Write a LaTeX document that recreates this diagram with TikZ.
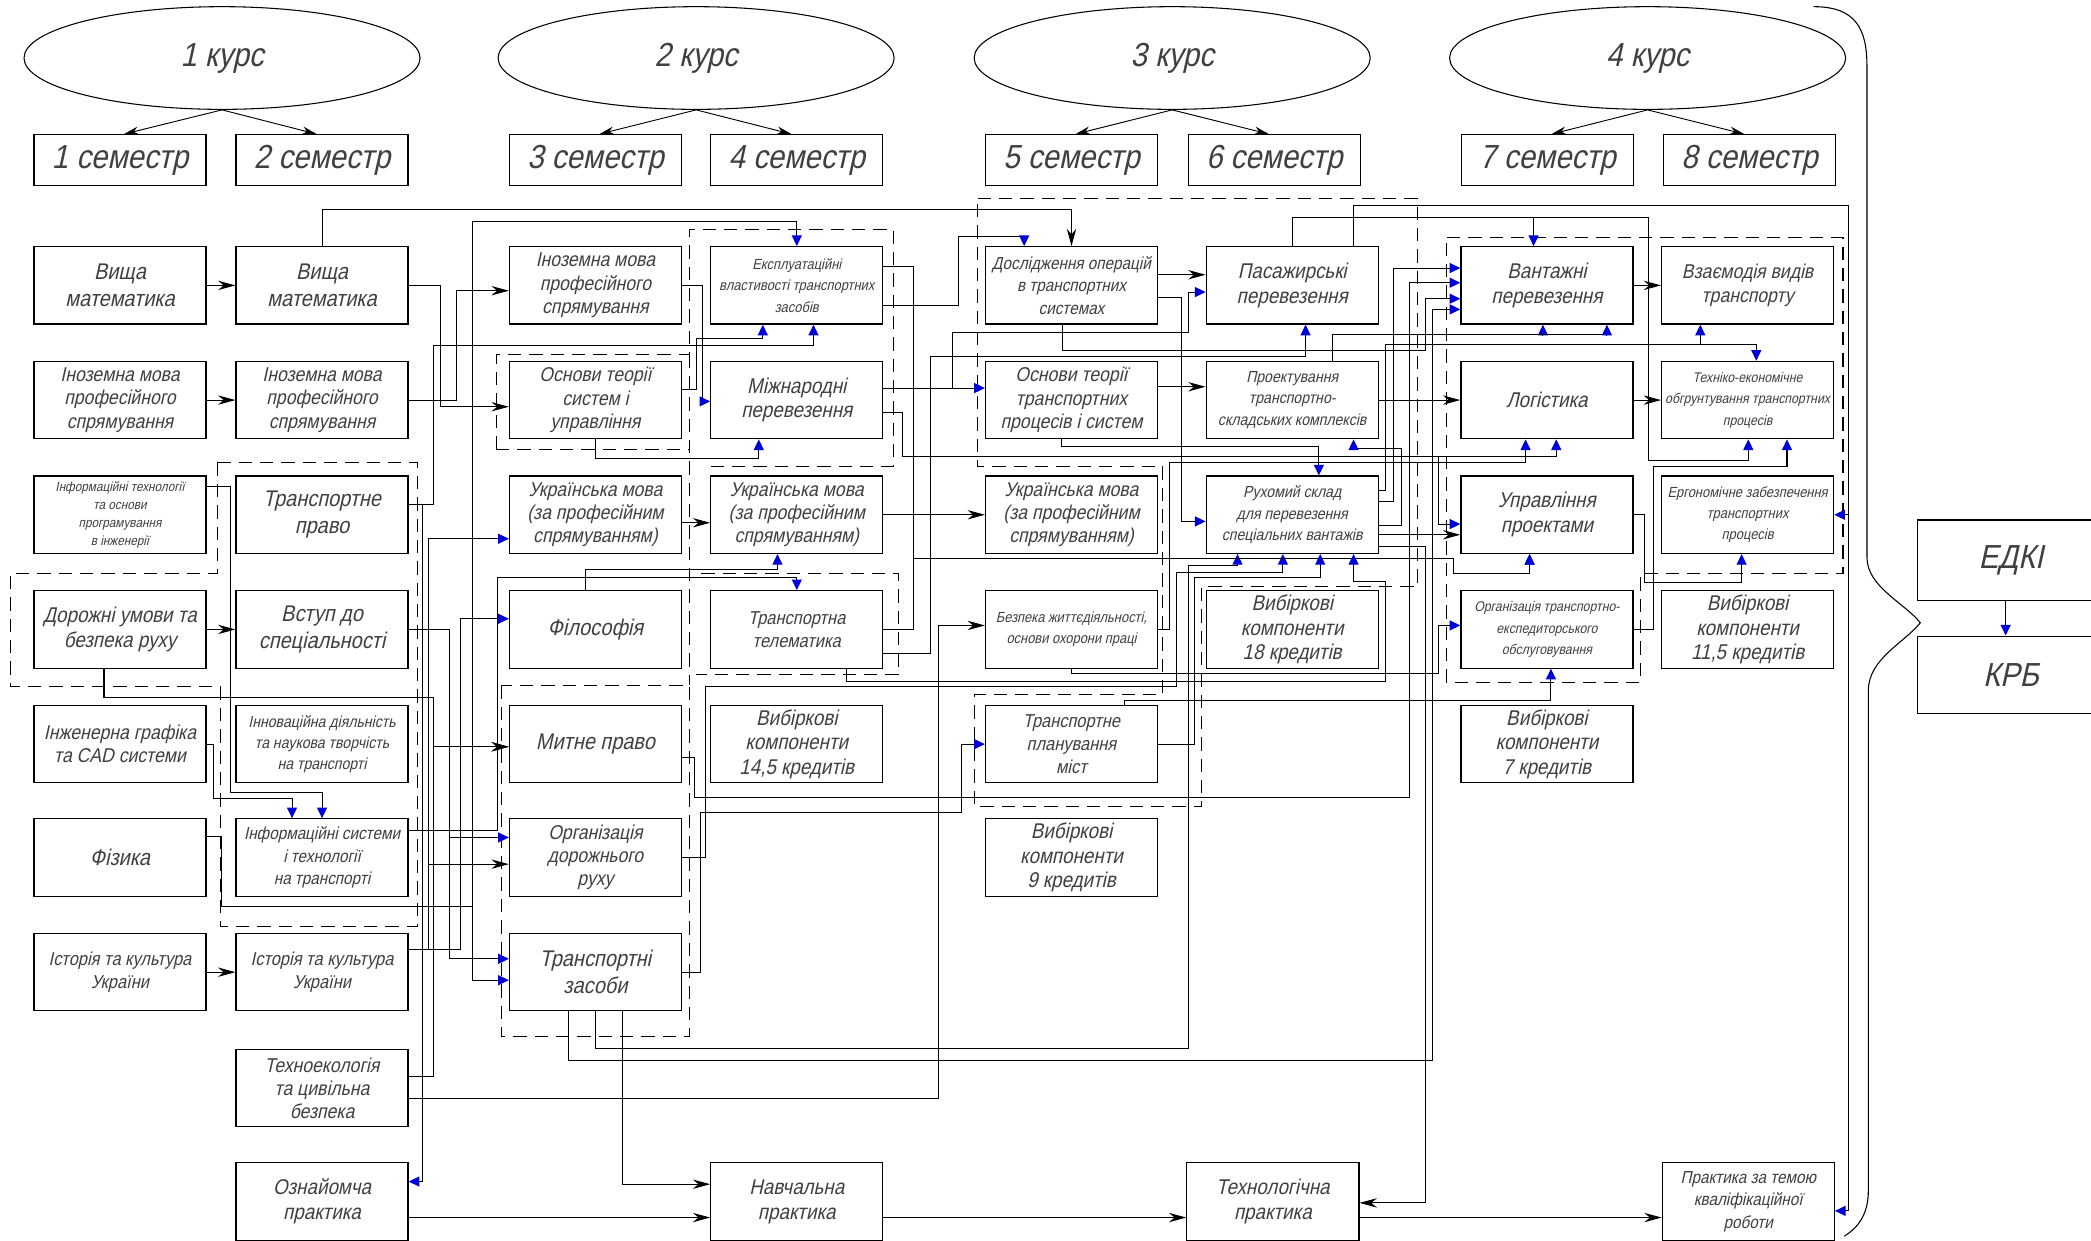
\documentclass[tikz,border=0pt]{standalone}
\usepackage{fontspec}
\setmainfont{Liberation Sans}[FakeSlant=0.22,FakeStretch=0.88]
\usetikzlibrary{shapes.geometric}
\usetikzlibrary{arrows.meta}
\usetikzlibrary{calc}
\tikzstyle{disc}=[draw,line width=0.9pt,minimum width=129pt,minimum height=58pt,inner sep=1pt,align=center,text=black!75]
\tikzstyle{sem}=[draw,line width=0.9pt,minimum width=129pt,minimum height=38pt,inner sep=0pt,text=black!75,font=\fontsize{25}{28}\selectfont]
\tikzstyle{kurs}=[ellipse,draw,line width=0.8pt,minimum width=297pt,minimum height=77pt,inner sep=0pt,text=black!75,font=\fontsize{25}{28}\selectfont]
\tikzstyle{grp}=[line width=0.8pt,dash pattern=on 10pt off 6pt]
\tikzstyle{ln}=[line width=0.8pt]
\tikzstyle{barr}=[ln,-{Stealth[length=13pt,width=7pt]}]
\tikzstyle{blarr}=[ln,-{Triangle[length=8pt,width=7.5pt,color=blue!85!black]}]
\tikzstyle{sarr}=[line width=0.7pt,-{Stealth[length=11pt,width=6pt]}]
\tikzstyle{f17}=[font=\fontsize{17}{20}\selectfont]
\tikzstyle{f16}=[font=\fontsize{16}{18.5}\selectfont]
\tikzstyle{f15}=[font=\fontsize{15}{17.5}\selectfont]
\tikzstyle{f14}=[font=\fontsize{14}{17}\selectfont]
\tikzstyle{f13}=[font=\fontsize{13}{17}\selectfont]
\tikzstyle{f12}=[font=\fontsize{12}{16}\selectfont]
\tikzstyle{f11}=[font=\fontsize{11}{16}\selectfont]
\tikzstyle{f10w}=[font=\fontsize{10.5}{16}\selectfont]
\tikzstyle{f10}=[font=\fontsize{10}{13.5}\selectfont]

\begin{document}
\begin{tikzpicture}[x=1pt,y=-1pt]

  \fill[white] (0,0) rectangle (1568,930);
  \useasboundingbox (0,0) rectangle (1568,930);

  % courses and semesters
  \foreach \x/\name/\label in {166.5/k1/1 курс, 522/k2/2 курс, 879/k3/3 курс, 1235.5/k4/4 курс}
    \node[kurs] (\name) at (\x, 43.5) {\label};
  \foreach \x/\name/\label in {90/s1/1, 241.5/s2/2, 446.5/s3/3, 597.5/s4/4, 803.5/s5/5, 955.5/s6/6, 1160.5/s7/7, 1312/s8/8}
    \node[sem] (\name) at (\x, 120) {\label\ семестр};
  \foreach \k/\a/\b in {k1/s1/s2, k2/s3/s4, k3/s5/s6, k4/s7/s8} {
    \draw[sarr] (\k.south) -- ($(\a.north)+(3,0)$);
    \draw[sarr] (\k.south) -- ($(\b.north)+(-4,0)$);
  }

  % dashed groups
  \draw[grp] (163,347) -- (313,347) -- (313,695) -- (165,695) -- (165,515) -- (8,515) -- (8,430) -- (163,430) -- cycle;
  \draw[grp] (372,337) -- (372,266) -- (517,266) -- (517,172) -- (670,172) -- (670,350) -- (528,350);
  \draw[grp] (372,337) -- (517,337);
  \draw[grp] (517,266) -- (517,514);
  \draw[grp] (376,514) rectangle (517,777);
  \draw[grp] (526,430) -- (674,430) -- (674,506) -- (522,506);
  \draw[grp] (733,149) -- (1063,149) -- (1063,440) -- (901,440) -- (901,605) -- (731,605) -- (731,521) -- (872,521) -- (872,350) -- (733,350) -- cycle;
  \draw[grp] (1085,178) -- (1382,178) -- (1382,430) -- (1230,430) -- (1230,512) -- (1085,512) -- cycle;

  % disciplines
  \foreach \y/\name/\fs/\label in {214/vm1/f17/{Вища\\математика}, 300/im1/f15/{Іноземна мова\\професійного\\спрямування},
      386/it1/f10/{Інформаційні технології\\та основи\\програмування\\в інженерії}, 472/dur/f16/{Дорожні умови та\\безпека руху},
      558/ig/f15/{Інженерна графіка\\та CAD системи}, 643/fiz/f17/{Фізика}, 729/ist1/f14/{Історія та культура\\України}}
    \node[disc,\fs] (\name) at (90, \y) {\label};
  \foreach \y/\name/\fs/\label in {214/vm2/f17/{Вища\\математика}, 300/im2/f15/{Іноземна мова\\професійного\\спрямування},
      386/trpravo/f17/{Транспортне\\право}, 472/vstup/f17/{Вступ до\\спеціальності},
      558/innov/f12/{Інноваційна діяльність\\та наукова творчість\\на транспорті}, 643/infsys/f13/{Інформаційні системи\\і технології\\на транспорті},
      729/ist2/f14/{Історія та культура\\України}, 816/tekhno/f15/{Техноекологія\\та цивільна\\безпека}, 901/oznay/f16/{Ознайомча\\практика}}
    \node[disc,\fs] (\name) at (241.5, \y) {\label};
  \foreach \y/\name/\fs/\label in {214/im3/f15/{Іноземна мова\\професійного\\спрямування}, 300/osnsys/f15/{Основи теорії\\систем і\\управління},
      386/ukr3/f15/{Українська мова\\(за професійним\\спрямуванням)}, 472/filos/f17/{Філософія}, 558/mytne/f17/{Митне право},
      643/org/f15/{Організація\\дорожнього\\руху}, 729/trz/f17/{Транспортні\\засоби}}
    \node[disc,\fs] (\name) at (446.5, \y) {\label};
  \foreach \y/\name/\fs/\label in {214/ekspl/f11/{Експлуатаційні\\властивості транспортних\\засобів}, 300/mizhn/f16/{Міжнародні\\перевезення},
      386/ukr4/f15/{Українська мова\\(за професійним\\спрямуванням)}, 472/telem/f14/{Транспортна\\телематика},
      558/vyb14/f16/{Вибіркові\\компоненти\\14,5 кредитів}, 901/navch/f16/{Навчальна\\практика}}
    \node[disc,\fs] (\name) at (597.5, \y) {\label};
  \foreach \y/\name/\fs/\label in {214/dosl/f13/{Дослідження операцій\\в транспортних\\системах}, 300/osntr/f15/{Основи теорії\\транспортних\\процесів і систем},
      386/ukr5/f15/{Українська мова\\(за професійним\\спрямуванням)}, 472/bezp/f11/{Безпека життєдіяльності,\\основи охорони праці},
      558/trplan/f14/{Транспортне\\планування\\міст}, 643/vyb9/f16/{Вибіркові\\компоненти\\9 кредитів}}
    \node[disc,\fs] (\name) at (803.5, \y) {\label};
  \foreach \y/\name/\fs/\label in {214/pas/f16/{Пасажирські\\перевезення}, 300/proekt/f12/{Проектування\\транспортно-\\складських комплексів},
      386/ruhom/f12/{Рухомий склад\\для перевезення\\спеціальних вантажів}, 472/vyb18/f16/{Вибіркові\\компоненти\\18 кредитів}}
    \node[disc,\fs] (\name) at (969, \y) {\label};
  \foreach \y/\name/\fs/\label in {214/vant/f16/{Вантажні\\перевезення}, 300/logist/f16/{Логістика}, 386/upr/f16/{Управління\\проектами},
      472/orgte/f10w/{Організація транспортно-\\експедиторського\\обслуговування}, 558/vyb7/f16/{Вибіркові\\компоненти\\7 кредитів}}
    \node[disc,\fs] (\name) at (1160, \y) {\label};
  \foreach \y/\name/\fs/\label in {214/vzaem/f15/{Взаємодія видів\\транспорту}, 300/tekhek/f10w/{Техніко-економічне\\обгрунтування транспортних\\процесів},
      386/ergo/f11/{Ергономічне забезпечення\\транспортних\\процесів}, 472/vyb11/f16/{Вибіркові\\компоненти\\11,5 кредитів}}
    \node[disc,\fs] (\name) at (1310.5, \y) {\label};
  \node[disc,f16] (tekhn) at (954.5, 901) {Технологічна\\практика};
  \node[disc,f13] (prakt) at (1311, 901) {Практика за темою\\кваліфікаційної\\роботи};
  \node[disc,font=\fontsize{25}{28}\selectfont,minimum width=140pt,minimum height=60pt] (edki) at (1508, 420) {ЕДКІ};
  \node[disc,font=\fontsize{25}{28}\selectfont,minimum width=140pt] (krb) at (1508, 506) {КРБ};

  % brace
  \draw[ln] (1360,5) .. controls (1392,5) and (1400,22) .. (1400,50) -- (1400,418)
    .. controls (1400,440) and (1428,452) .. (1440,467) .. controls (1428,482) and (1401,494) .. (1401,518)
    -- (1401,893) .. controls (1401,910) and (1394,920) .. (1383,927);

  \foreach \source/\dest in {vm1/vm2, im1/im2, dur/vstup, ist1/ist2, ukr4/ukr5, proekt/logist, logist/tekhek, vant/vzaem}
    \draw[barr] (\source) -- (\dest);
  \draw[blarr] ($(edki.south)+(-4,0)$) -- ($(krb.north)+(-4,0)$);

  % first year
  \draw[barr] (vm2.east) -- (330,214) -- (330,305) -- ($(osnsys.west)+(0,5)$);
  \draw[barr] (im2.east) -- (342,300) -- (342,218) -- ($(im3.west)+(0,4)$);
  \draw[barr] (vm2.north) -- (241.5,157) -- (803.5,157) -- (dosl.north);
  \draw[barr] ($(dur.south)+(-12,0)$) -- (78,523) -- (325,523) -- (325,560) -- ($(mytne.west)+(0,2)$);
  \draw[barr] ($(tekhno.east)+(0,-9)$) -- (325,807) -- (325,560) -- ($(mytne.west)+(0,2)$);
  \draw[barr] ($(ist2.east)+(0,-17)$) -- (321,712) -- (321,648) -- ($(org.west)+(0,5)$);
  \draw[barr] ($(tekhno.east)+(0,8)$) -- (704,824) -- (704,469) -- ($(bezp.west)+(0,-3)$);
  \draw[blarr] ($(it1.east)+(0,-21)$) -- (173,365) -- (173,594) -- (241.5,594) -- (infsys.north);
  \draw[blarr] (ig.east) -- (160,558) -- (160,599) -- (219,599) -- ($(infsys.north)+(-22.5,0)$);
  \draw[blarr] ($(trpravo.east)+(0,-8)$) -- (325,378) -- (325,259) -- (610,259) -- ($(ekspl.south)+(12.5,0)$);
  \draw[blarr] ($(trpravo.east)+(0,-8)$) -- (317,378) -- (317,886) -- ($(oznay.east)+(0,-15)$);
  \draw[blarr] ($(ist2.east)+(0,-17)$) -- (321,712) -- (321,404) -- ($(ukr3.west)+(0,18)$);
  \draw[blarr] (vstup.east) -- (337,472) -- (337,628) -- ($(org.west)+(0,-15)$);
  \draw[blarr] (vstup.east) -- (337,472) -- (337,719) -- ($(trz.west)+(0,-10)$);
  \draw[blarr] ($(ist2.east)+(0,-17)$) -- (345,712) -- (345,464) -- ($(filos.west)+(0,-8)$);
  \draw[blarr] ($(fiz.east)+(0,-16)$) -- (166,627) -- (166,680) -- (354,680) -- (354,735) -- ($(trz.west)+(0,6)$);
  \draw[blarr] ($(fiz.east)+(0,-16)$) -- (166,627) -- (166,680) -- (354,680) -- (354,166) -- (597.5,166) -- (ekspl.north);
  \draw[blarr] ($(infsys.east)+(0,-20)$) -- (373,623) -- (373,433) -- (597.5,433) -- (telem.north);

  % second year
  \draw[barr] ($(ukr3.east)+(0,6)$) -- ($(ukr4.west)+(0,6)$);
  \draw[barr] ($(oznay.east)+(0,12)$) -- ($(navch.west)+(0,12)$);
  \draw[barr] ($(trz.south)+(20.5,0)$) -- (467,888) -- ($(navch.west)+(0,-13)$);
  \draw[blarr] ($(osnsys.east)+(0,-8)$) -- (522,292) -- (522,254) -- (572,254) -- ($(ekspl.south)+(-25.5,0)$);
  \draw[blarr] (im3.east) -- (527,214) -- (527,301) -- ($(mizhn.west)+(0,1)$);
  \draw[blarr] (osnsys.south) -- (446.5,344) -- (569,344) -- ($(mizhn.south)+(-28.5,0)$);
  \draw[blarr] ($(filos.north)+(-7.5,0)$) -- (439,427) -- (583,427) -- ($(ukr4.south)+(-14.5,0)$);
  \draw[blarr] (trz.east) -- (525,729) -- (525,609) -- (721,609) -- (721,558) -- (trplan.west);
  \draw[blarr] ($(mytne.east)+(0,10)$) -- (521,568) -- (521,598) -- (1057,598) -- (1057,212) -- ($(vant.west)+(0,-2)$);
  \draw[blarr] ($(trz.south)+(-20.5,0)$) -- (426,795) -- (1074,795) -- (1074,232) -- ($(vant.west)+(0,18)$);
  \draw[blarr] (trz.south) -- (446.5,786) -- (891,786) -- (891,424) -- (928,424) -- ($(ruhom.south)+(-41,0)$);
  \draw[blarr] (org.east) -- (529,643) -- (529,515) -- (882,515) -- (882,429) -- (962,429) -- ($(ruhom.south)+(-7,0)$);
  \draw[blarr] ($(ekspl.east)+(0,15)$) -- (719,229) -- (719,177) -- (768,177) -- ($(dosl.north)+(-35.5,0)$);
  \draw[blarr] ($(ekspl.east)+(0,-14)$) -- (685,200) -- (685,419) -- (1090,419) -- (1090,430) -- (1147,430) -- ($(upr.south)+(-13,0)$);
  \draw[blarr] (telem.east) -- (685,472) -- (685,419) -- (1090,419) -- (1090,430) -- (1147,430) -- ($(upr.south)+(-13,0)$);
  \draw[blarr] ($(telem.east)+(0,18)$) -- (698,490) -- (698,267) -- (979,267) -- ($(pas.south)+(10,0)$);
  \draw[blarr] ($(telem.south)+(37.5,0)$) -- (635,511) -- (1039,511) -- (1039,436) -- (1015,436) -- ($(ruhom.south)+(46,0)$);
  \draw[blarr] ($(mizhn.east)+(0,-9)$) -- ($(osntr.west)+(0,-9)$);
  \draw[blarr] ($(mizhn.east)+(0,-9)$) -- (714,291) -- (714,249) -- (891,249) -- (891,219) -- ($(pas.west)+(0,5)$);
  \draw[blarr] ($(mizhn.east)+(0,9)$) -- (677,309) -- (677,342) -- (1167,342) -- ($(logist.south)+(7,0)$);
  \draw[blarr] ($(mizhn.east)+(0,9)$) -- (677,309) -- (677,342) -- (1079,342) -- (1079,393) -- ($(upr.west)+(0,7)$);

  % third year
  \draw[barr] ($(dosl.east)+(0,-8)$) -- ($(pas.west)+(0,-8)$);
  \draw[barr] ($(osntr.east)+(0,-10)$) -- ($(proekt.west)+(0,-10)$);
  \draw[barr] ($(ruhom.east)+(0,15)$) -- ($(upr.west)+(0,15)$);
  \draw[barr] ($(ruhom.east)+(0,24)$) -- (1069,410) -- (1069,902) -- ($(tekhn.east)+(0,1)$);
  \draw[barr] ($(navch.east)+(0,12)$) -- ($(tekhn.west)+(0,12)$);
  \draw[barr] ($(tekhn.east)+(0,12)$) -- ($(prakt.west)+(0,12)$);
  \draw[blarr] ($(dosl.east)+(0,9)$) -- (886,223) -- (886,391) -- ($(ruhom.west)+(0,5)$);
  \draw[blarr] ($(dosl.south)+(-6.5,0)$) -- (797,263) -- (1069,263) -- (1069,224) -- ($(vant.west)+(0,10)$);
  \draw[blarr] ($(osntr.south)+(-7.5,0)$) -- (796,335) -- (989,335) -- ($(ruhom.north)+(20,0)$);
  \draw[blarr] (trplan.east) -- (896,558) -- (896,433) -- (990,433) -- ($(ruhom.south)+(21,0)$);
  \draw[blarr] (bezp.east) -- (877,472) -- (877,347) -- (1144,347) -- ($(logist.south)+(-16,0)$);
  \draw[blarr] (bezp.south) -- (803.5,505) -- (1079,505) -- (1079,469) -- ($(orgte.west)+(0,-3)$);
  \draw[blarr] ($(trplan.north)+(40,0)$) -- (843.5,525) -- (1163,525) -- ($(orgte.south)+(3,0)$);
  \draw[blarr] ($(ruhom.east)+(0,-10)$) -- (1045,376) -- (1045,201) -- ($(vant.west)+(0,-13)$);
  \draw[blarr] ($(ruhom.east)+(0,-18)$) -- (1039,368) -- (1039,258) -- (1275,258) -- ($(vzaem.south)+(-35.5,0)$);
  \draw[blarr] ($(ruhom.east)+(0,-18)$) -- (1039,368) -- (1039,258) -- (1317,258) -- ($(tekhek.north)+(6.5,0)$);
  \draw[blarr] ($(ruhom.east)+(0,8)$) -- (1051,394) -- (1051,336) -- (1015,336) -- ($(proekt.south)+(46,0)$);
  \draw[blarr] (pas.north) -- (969,163) -- (1150,163) -- ($(vant.north)+(-10,0)$);
  \draw[blarr] (pas.north) -- (969,163) -- (1236,163) -- (1236,345) -- (1311,345) -- ($(tekhek.south)+(0.5,0)$);
  \draw[blarr] ($(pas.north)+(46,0)$) -- (1015,154) -- (1386,154) -- (1386,386) -- (ergo.east);
  \draw[blarr] ($(pas.north)+(46,0)$) -- (1015,154) -- (1386,154) -- (1386,908) -- ($(prakt.east)+(0,7)$);
  \draw[blarr] ($(proekt.north)+(30,0)$) -- (999,251) -- (1157,251) -- ($(vant.south)+(-3,0)$);
  \draw[blarr] ($(proekt.north)+(30,0)$) -- (999,251) -- (1205,251) -- ($(vant.south)+(45,0)$);

  % fourth year
  \draw[blarr] (orgte.east) -- (1240,472) -- (1240,350) -- (1340,350) -- ($(tekhek.south)+(29.5,0)$);
  \draw[blarr] (upr.east) -- (1233,386) -- (1233,437) -- (1306,437) -- ($(ergo.south)+(-4.5,0)$);

\end{tikzpicture}
\end{document}
